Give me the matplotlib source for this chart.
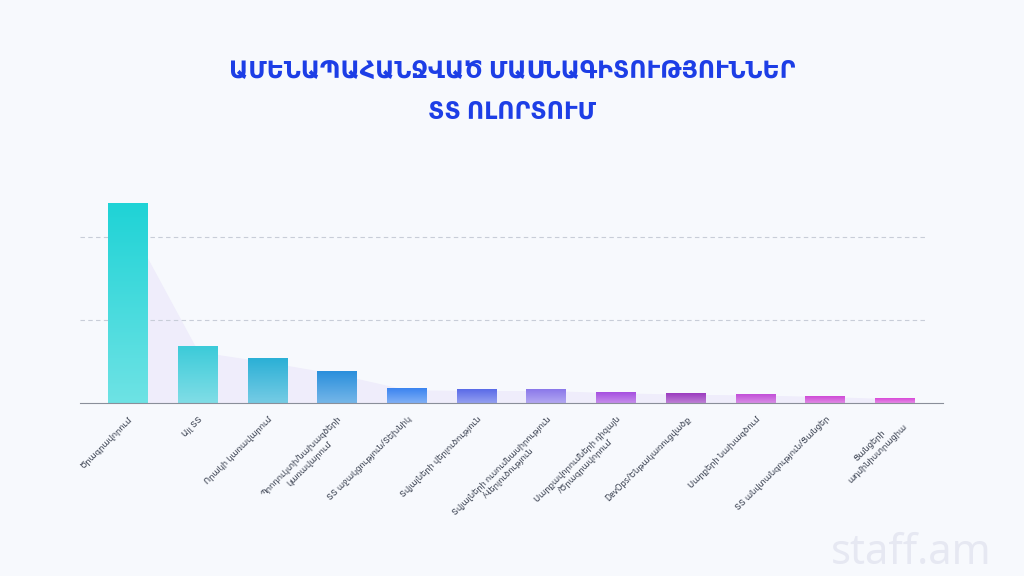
import matplotlib
matplotlib.use("Agg")
import matplotlib.pyplot as plt
import numpy as np
from matplotlib.colors import to_rgb

categories = ["Ծրագրավորում", "Այլ ՏՏ", "Որակի կառավարում",
              "Պրոդուկտի/նախագծերի\nկառավարում", "ՏՏ աջակցություն/Տեխնիկ",
              "Տվյալների վերլուծություն", "Տվյալների ուսումնասիրություն\n/Վերլուծություն",
              "Սարքավորումների դիզայն\n/Ծրագրավորում", "DevOps/Ենթակառուցվածք",
              "Սարքերի նախագծում", "ՏՏ անվտանգություն/Ցանցեր", "Ցանցերի\nադմինիստրացիա"]
values = [24.0, 6.8, 5.4, 3.8, 1.7, 1.6, 1.6, 1.3, 1.1, 1.0, 0.8, 0.5]
colors = ["#1fd3d6", "#3ccbd9", "#2bb0d6", "#2a8fdc", "#3b84f0", "#5a6be8", "#8a78ea",
          "#a64fe0", "#9b3bbf", "#c24fd8", "#cf4ad6", "#d84ad8"]

plt.rcParams['font.family'] = ['Noto Sans', 'DejaVu Sans']
fig = plt.figure(figsize=(10.24, 5.76), dpi=100, facecolor="#f7f9fd")
ax = fig.add_axes([0.078, 0.300, 0.843, 0.434])
ax.set_facecolor("#f7f9fd")
x = np.arange(len(values))
ax.fill_between(x, [v * 0.9 for v in values], 0, color="#efedfb", zorder=0)
w = 0.57
for xi, v, c in zip(x, values, colors):
    rgb = np.array(to_rgb(c))
    light = rgb + (1 - rgb) * 0.35
    t = np.linspace(0, 1, 64)[:, None]
    grad = light[None, :] * (1 - t) + rgb[None, :] * t  # bottom lighter, top full
    ax.imshow(grad[:, None, :].repeat(2, axis=1), extent=(xi - w / 2, xi + w / 2, 0, v),
              origin="lower", aspect="auto", zorder=2, interpolation="bilinear")
ax.set_xlim(-0.69, 11.69)
ax.set_ylim(0, 30)
for gy in (10, 20):
    ax.plot([-0.69, 11.43], [gy, gy], ls=(0, (4, 3)), color="#c8cdd8", lw=0.8, zorder=1)
for s in ["top", "right", "left"]:
    ax.spines[s].set_visible(False)
ax.spines["bottom"].set_color("#8a8f9a")
ax.spines["bottom"].set_zorder(4)
ax.set_yticks([])
ax.set_xticks(x)
ax.set_xticklabels(categories, rotation=45, ha="right", rotation_mode="anchor",
                   fontsize=6, color="#333a4a", multialignment="center")
ax.tick_params(axis="x", length=0, pad=8)
fig.text(0.5, 0.875, "ԱՄԵՆԱՊԱՀԱՆՋՎԱԾ ՄԱՍՆԱԳԻՏՈՒԹՅՈՒՆՆԵՐ", ha="center", va="center",
         fontsize=17, fontweight="bold", color="#1d3ee6")
fig.text(0.5, 0.805, "ՏՏ ՈԼՈՐՏՈՒՄ", ha="center", va="center",
         fontsize=17, fontweight="bold", color="#1d3ee6")
fig.text(0.89, 0.04, "staff.am", ha="center", va="center", fontsize=30, color="#e6e8f2")
fig.savefig("out.png", dpi=100, facecolor=fig.get_facecolor())
